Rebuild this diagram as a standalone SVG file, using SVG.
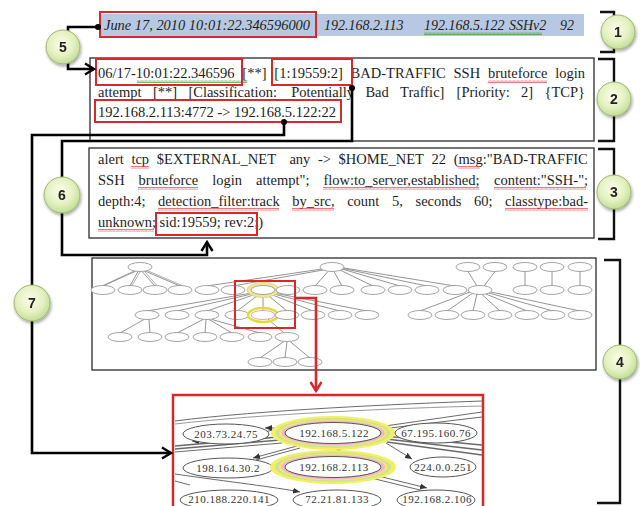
<svg xmlns="http://www.w3.org/2000/svg" width="640" height="506" viewBox="0 0 640 506">
<defs>
<style>
.tx{font-family:"Liberation Serif","Times New Roman",serif;font-size:14.5px;fill:#1e1e1e}
.ti{font-family:"Liberation Serif","Times New Roman",serif;font-size:14px;font-style:italic;fill:#1e1e1e}
.box{fill:#fff;stroke:#3a3a3a;stroke-width:1.4}
.red{fill:none;stroke:#d62a2a;stroke-width:2}
.con{fill:none;stroke:#000;stroke-width:2.6;stroke-linejoin:miter}
.num{font-family:"Liberation Sans",Arial,sans-serif;font-size:14px;font-weight:bold;fill:#222;text-anchor:middle}
.circ{fill:url(#gc);stroke:#9cb86f;stroke-width:1}
.brk{fill:none;stroke:#111;stroke-width:2.4}
.sn{fill:#fff;stroke:#8c8c8c;stroke-width:0.8}
.se{stroke:#7a7a7a;stroke-width:0.8;fill:none}
.ge{stroke:#6a6a6a;stroke-width:1;fill:none}
.gn{fill:#fff;stroke:#555;stroke-width:1}
.gt{font-family:"Liberation Serif","Times New Roman",serif;font-size:11px;fill:#333;text-anchor:middle;letter-spacing:0.5px}
</style>
<radialGradient id="gc" cx="45%" cy="40%" r="60%">
<stop offset="0" stop-color="#fbfde8"/>
<stop offset="0.6" stop-color="#e5f1c2"/>
<stop offset="1" stop-color="#c3de96"/>
</radialGradient>
<filter id="sh" x="-30%" y="-30%" width="160%" height="160%">
<feDropShadow dx="1" dy="2" stdDeviation="1.5" flood-color="#000" flood-opacity="0.35"/>
</filter>
<pattern id="sqR" width="4" height="3" patternUnits="userSpaceOnUse">
<path d="M0,2.5 L1,0.5 L2,2.5 L3,0.5 L4,2.5" fill="none" stroke="#e04040" stroke-width="0.7"/>
</pattern>
<pattern id="sqG" width="4" height="3" patternUnits="userSpaceOnUse">
<path d="M0,2.5 L1,0.5 L2,2.5 L3,0.5 L4,2.5" fill="none" stroke="#3a9a3a" stroke-width="0.7"/>
</pattern>
<marker id="aBlk" markerUnits="userSpaceOnUse" markerWidth="14" markerHeight="14" refX="11" refY="7" orient="auto">
<path d="M2,1.5 L11,7 L2,12.5" fill="none" stroke="#000" stroke-width="2.4"/>
</marker>
<marker id="aRed" markerUnits="userSpaceOnUse" markerWidth="14" markerHeight="14" refX="11" refY="7" orient="auto">
<path d="M2,1.5 L11,7 L2,12.5" fill="none" stroke="#d62a2a" stroke-width="2.4"/>
</marker>
<marker id="aG" markerUnits="userSpaceOnUse" markerWidth="8" markerHeight="8" refX="7" refY="4" orient="auto">
<path d="M0,1 L7,4 L0,7 Z" fill="#333"/>
</marker>
</defs>

<rect width="640" height="506" fill="#fff"/>

<!-- Node 1: packet summary line -->
<g id="node-packet">
<rect x="100" y="14" width="484" height="22" fill="#b7c9e2"/>
<text class="ti" x="104" y="30" textLength="206" lengthAdjust="spacingAndGlyphs">June 17, 2010 10:01:22.346596000</text>
<text class="ti" x="324" y="30">192.168.2.113</text>
<text class="ti" x="424" y="30">192.168.5.122</text>
<text class="ti" x="509" y="30">SSHv2</text>
<text class="ti" x="560" y="30">92</text>
<rect x="424" y="32" width="118" height="3" fill="url(#sqG)"/>
<rect class="red" x="100" y="12" width="216" height="25"/>
</g>

<!-- Node 2: alert log -->
<g id="node-alert">
<rect class="box" x="90" y="58" width="504" height="83"/>
<text class="tx" y="78"><tspan x="98">06/17-10:01:22.346596</tspan><tspan x="242.3">[**]</tspan><tspan x="274.3">[1:19559:2]</tspan><tspan x="350.6">BAD-TRAFFIC</tspan><tspan x="453.5">SSH</tspan><tspan x="487.9">bruteforce</tspan><tspan x="555.3">login</tspan></text>
<text class="tx" y="97"><tspan x="98">attempt</tspan><tspan x="152.9">[**]</tspan><tspan x="188.4">[Classification:</tspan><tspan x="291.2">Potentially</tspan><tspan x="365.4">Bad</tspan><tspan x="400.1">Traffic]</tspan><tspan x="456.6">[Priority:</tspan><tspan x="521.1">2]</tspan><tspan x="544.5">{TCP}</tspan></text>
<text class="tx" x="98" y="117">192.168.2.113:4772 -&gt; 192.168.5.122:22</text>
<rect x="137" y="80" width="110" height="3" fill="url(#sqG)"/>
<rect x="488" y="80" width="59" height="3" fill="url(#sqR)"/>
<rect class="red" x="96" y="59" width="146" height="26"/>
<rect class="red" x="272" y="59" width="80" height="26"/>
<rect class="red" x="95" y="100" width="246" height="22"/>
</g>

<!-- Node 3: snort rule -->
<g id="node-rule">
<rect class="box" x="89" y="148" width="505" height="90"/>
<text class="tx" y="164"><tspan x="98">alert</tspan><tspan x="131.4">tcp</tspan><tspan x="156.8">$EXTERNAL_NET</tspan><tspan x="289.4">any</tspan><tspan x="318">-&gt;</tspan><tspan x="338.6">$HOME_NET</tspan><tspan x="431.6">22</tspan><tspan x="453.7">(msg:"BAD-TRAFFIC</tspan></text>
<text class="tx" y="185"><tspan x="98">SSH</tspan><tspan x="138.6">bruteforce</tspan><tspan x="212.2">login</tspan><tspan x="256">attempt";</tspan><tspan x="323.4">flow:to_server,established;</tspan><tspan x="494.1">content:"SSH-";</tspan></text>
<text class="tx" y="206"><tspan x="98">depth:4;</tspan><tspan x="158.1">detection_filter:track</tspan><tspan x="292.3">by_src,</tspan><tspan x="347.2">count</tspan><tspan x="392">5,</tspan><tspan x="415.5">seconds</tspan><tspan x="474">60;</tspan><tspan x="505.1">classtype:bad-</tspan></text>
<text class="tx" y="227"><tspan x="98">unknown;</tspan><tspan x="159.6">sid:19559; rev:2;)</tspan></text>
<rect x="131" y="166" width="18" height="3" fill="url(#sqR)"/>
<rect x="458" y="166" width="22" height="3" fill="url(#sqR)"/>
<rect x="138" y="187" width="60" height="3" fill="url(#sqR)"/>
<rect x="323" y="187" width="156" height="3" fill="url(#sqR)"/>
<rect x="494" y="187" width="92" height="3" fill="url(#sqR)"/>
<rect x="158" y="208" width="121" height="3" fill="url(#sqR)"/>
<rect x="292" y="208" width="42" height="3" fill="url(#sqR)"/>
<rect x="505" y="208" width="83" height="3" fill="url(#sqR)"/>
<rect x="98" y="229" width="56" height="3" fill="url(#sqR)"/>
<rect class="red" x="156" y="213" width="101" height="22"/>
</g>

<!-- Node 4: overview graph -->
<g id="node-graph-overview">
<rect class="box" x="92" y="258" width="504" height="112" stroke="#222" stroke-width="1.5"/>
<g class="se">
<path d="M136,271 L103,286 M138,271.5 L130,286 M142,271.5 L155,286 M145,271 L180,286"/>
<path d="M134,271 L103,285.5 M140,272 L132,285.5 M144,271 L157,285.5 M147,270.5 L182,285.5" stroke-width="0.6"/>
<path d="M322,269 L207,286 M323,270 L233,286 M328,271.5 L315,286 M334,271.5 L342,286 M340,270 L373,286 M342,269 L400,286 M343,268.5 L427,286 M344,268 L455,286"/>
<path d="M252,293 L147,311 M254,293.5 L177,311 M256,294 L207,311 M259,294.5 L237,311 M263,294.5 L263,310.5 M267,294.5 L287,311 M270,294 L313,311 M272,293.5 L340,311 M274,293 L367,311"/>
<path d="M203,319.5 L177,333 M206,319.5 L205,333 M209,319.5 L232,333 M212,319.5 L260,333"/>
<path d="M144,319.5 L120,333 M149,319.5 L150,333 M268,319 L284,333"/>
<path d="M284,341.5 L260,358 M287,341.5 L285,358 M290,341.5 L310,358"/>
<path d="M468,271.5 L477,286 M495,271.5 L484,286 M525,271.5 L525,285.5 M552,271.5 L552,285.5 M580,271.5 L580,285.5"/>
<path d="M470,292 L420,311 M473,293 L447,311 M477,294 L473,311 M482,294.5 L500,311 M486,294 L527,311 M489,293 L553,311 M491,292 L580,311"/>
</g>
<g class="sn">
<ellipse cx="140" cy="267" rx="12" ry="4.5"/><ellipse cx="332" cy="267" rx="12" ry="4.5"/><ellipse cx="468" cy="267" rx="12" ry="4.5"/><ellipse cx="495" cy="267" rx="12" ry="4.5"/><ellipse cx="525" cy="267" rx="12" ry="4.5"/><ellipse cx="552" cy="267" rx="12" ry="4.5"/><ellipse cx="580" cy="267" rx="12" ry="4.5"/>
<ellipse cx="103" cy="290" rx="12" ry="4.5"/><ellipse cx="130" cy="290" rx="12" ry="4.5"/><ellipse cx="155" cy="290" rx="12" ry="4.5"/><ellipse cx="180" cy="290" rx="12" ry="4.5"/><ellipse cx="207" cy="290" rx="12" ry="4.5"/><ellipse cx="233" cy="290" rx="12" ry="4.5"/>
<ellipse cx="263" cy="290" rx="16" ry="7.5" fill="#efe7a0" stroke="#e0d060"/>
<ellipse cx="263" cy="290" rx="12" ry="4.5"/>
<ellipse cx="288" cy="290" rx="12" ry="4.5"/><ellipse cx="315" cy="290" rx="12" ry="4.5"/><ellipse cx="342" cy="290" rx="12" ry="4.5"/><ellipse cx="373" cy="290" rx="12" ry="4.5"/><ellipse cx="400" cy="290" rx="12" ry="4.5"/><ellipse cx="427" cy="290" rx="12" ry="4.5"/><ellipse cx="455" cy="290" rx="12" ry="4.5"/><ellipse cx="480" cy="290" rx="12" ry="4.5"/><ellipse cx="525" cy="290" rx="12" ry="4.5"/><ellipse cx="552" cy="290" rx="12" ry="4.5"/><ellipse cx="580" cy="290" rx="12" ry="4.5"/>
<ellipse cx="147" cy="315" rx="12" ry="4.5"/><ellipse cx="177" cy="315" rx="12" ry="4.5"/><ellipse cx="207" cy="315" rx="12" ry="4.5"/><ellipse cx="237" cy="315" rx="12" ry="4.5"/>
<ellipse cx="263" cy="315" rx="15" ry="7" fill="none" stroke="#e4dc30" stroke-width="2.5"/>
<ellipse cx="263" cy="315" rx="12" ry="4.5" stroke="#d88ab0"/>
<ellipse cx="287" cy="315" rx="12" ry="4.5"/><ellipse cx="313" cy="315" rx="12" ry="4.5"/><ellipse cx="340" cy="315" rx="12" ry="4.5"/><ellipse cx="367" cy="315" rx="12" ry="4.5"/><ellipse cx="420" cy="315" rx="12" ry="4.5"/><ellipse cx="447" cy="315" rx="12" ry="4.5"/><ellipse cx="473" cy="315" rx="12" ry="4.5"/><ellipse cx="500" cy="315" rx="12" ry="4.5"/><ellipse cx="527" cy="315" rx="12" ry="4.5"/><ellipse cx="553" cy="315" rx="12" ry="4.5"/><ellipse cx="580" cy="315" rx="12" ry="4.5"/>
<ellipse cx="120" cy="337" rx="12" ry="4.5"/><ellipse cx="150" cy="337" rx="12" ry="4.5"/><ellipse cx="177" cy="337" rx="12" ry="4.5"/><ellipse cx="205" cy="337" rx="12" ry="4.5"/><ellipse cx="232" cy="337" rx="12" ry="4.5"/><ellipse cx="260" cy="337" rx="12" ry="4.5"/><ellipse cx="287" cy="337" rx="12" ry="4.5"/>
<ellipse cx="260" cy="362" rx="12" ry="4.5"/><ellipse cx="285" cy="362" rx="12" ry="4.5"/><ellipse cx="310" cy="362" rx="12" ry="4.5"/>
</g>
<rect x="235" y="281" width="60" height="47" fill="none" stroke="#d62a2a" stroke-width="2"/>
</g>

<!-- Node 5: zoomed graph -->
<g id="node-graph-zoom">
<rect x="173" y="395" width="310" height="130" fill="#fff" stroke="#d62a2a" stroke-width="2.5"/>
<g class="ge">
<path d="M175,421 C260,410 400,404 482,401"/>
<path d="M175,424 C260,414 400,408 482,406" stroke="#999"/>
<path d="M290,426 C250,436 215,442 192,441" marker-end="url(#aG)"/>
<path d="M276,428 L265,428" marker-end="url(#aG)"/>
<path d="M175,446 L278,437 M175,449 L280,440" stroke-width="1.6"/>
<path d="M175,452 L282,443"/>
<path d="M297,446 L253,458" marker-end="url(#aG)"/>
<path d="M300,448 L256,460"/>
<path d="M175,474 C230,482 275,487 300,492" marker-end="url(#aG)"/>
<path d="M175,481 L190,485"/>
<path d="M384,436 L482,445 M386,439 L482,450 M387,442 L482,455" stroke-width="1.4"/>
<path d="M386,443 L412,459" marker-end="url(#aG)"/>
<path d="M385,426 L482,412 M390,428 L482,417"/>
<path d="M363,476 L424,491 M366,473 L427,488" marker-end="url(#aG)"/>
<path d="M328,456 L328,445 M338,445 L338,456" stroke-dasharray="2,2" marker-end="url(#aG)"/>
</g>
<ellipse class="gn" cx="226" cy="434" rx="43" ry="10"/>
<text class="gt" x="226" y="438">203.73.24.75</text>
<ellipse cx="333" cy="433" rx="62" ry="17" fill="#f3ee66"/>
<ellipse cx="333" cy="433" rx="57" ry="15" fill="#c9e592"/>
<ellipse cx="333" cy="433" rx="54" ry="13.5" fill="#f0e870"/>
<ellipse cx="333" cy="433" rx="51.5" ry="12.5" fill="#f2b6cc"/>
<ellipse class="gn" cx="333" cy="433" rx="48" ry="10.5"/>
<text class="gt" x="334" y="437">192.168.5.122</text>
<ellipse class="gn" cx="436" cy="433" rx="41" ry="10"/>
<text class="gt" x="436" y="437">67.195.160.76</text>
<ellipse class="gn" cx="228" cy="468" rx="45" ry="10"/>
<text class="gt" x="228" y="472">198.164.30.2</text>
<ellipse cx="333" cy="467" rx="63" ry="17" fill="#f3ee66"/>
<ellipse cx="333" cy="467" rx="58" ry="15" fill="#c9e592"/>
<ellipse cx="333" cy="467" rx="54.5" ry="13.5" fill="#f0e870"/>
<ellipse cx="333" cy="467" rx="52" ry="12.5" fill="#f2b6cc"/>
<ellipse class="gn" cx="333" cy="467" rx="48" ry="10.5"/>
<text class="gt" x="334" y="471">192.168.2.113</text>
<ellipse class="gn" cx="443" cy="467" rx="33" ry="10"/>
<text class="gt" x="443" y="471">224.0.0.251</text>
<ellipse class="gn" cx="229" cy="500" rx="49" ry="10"/>
<text class="gt" x="229" y="503">210.188.220.141</text>
<ellipse class="gn" cx="337" cy="500" rx="44" ry="10"/>
<text class="gt" x="337" y="503">72.21.81.133</text>
<ellipse class="gn" cx="436" cy="500" rx="39" ry="10"/>
<text class="gt" x="437" y="503">192.168.2.106</text>
</g>

<!-- Connectors -->
<g id="connectors">
<path class="con" d="M68,33 V27 H98"/>
<circle cx="98" cy="27" r="3" fill="#000"/>
<path class="con" d="M68,62 V69 H94" marker-end="url(#aBlk)"/>
<path class="con" d="M352,88 V141 H62 V255 H207 V242" marker-end="url(#aBlk)"/>
<circle cx="352" cy="88" r="3" fill="#000"/>
<path class="con" d="M284,122 V135 H32 V453 H171" marker-end="url(#aBlk)"/>
<circle cx="284" cy="122" r="3" fill="#000"/>
<path d="M295,298 H316 V391" fill="none" stroke="#d62a2a" stroke-width="2.6" marker-end="url(#aRed)"/>
<path class="brk" d="M600,12 H614 V52 H600"/>
<path class="brk" d="M598,59 H614 V141 H598"/>
<path class="brk" d="M598,149 H614 V239 H598"/>
<path class="brk" d="M604,260 H620 V503 H597"/>
</g>

<!-- Number markers -->
<g id="marker-1" filter="url(#sh)"><circle class="circ" cx="618" cy="32" r="17"/><text class="num" x="618" y="37">1</text></g>
<g id="marker-2" filter="url(#sh)"><circle class="circ" cx="614" cy="99" r="17"/><text class="num" x="614" y="104">2</text></g>
<g id="marker-3" filter="url(#sh)"><circle class="circ" cx="614" cy="192" r="17"/><text class="num" x="614" y="197">3</text></g>
<g id="marker-4" filter="url(#sh)"><circle class="circ" cx="620" cy="362" r="17"/><text class="num" x="620" y="367">4</text></g>
<g id="marker-5" filter="url(#sh)"><circle class="circ" cx="63" cy="47" r="17"/><text class="num" x="63" y="52">5</text></g>
<g id="marker-6" filter="url(#sh)"><circle class="circ" cx="62" cy="195" r="18"/><text class="num" x="62" y="200">6</text></g>
<g id="marker-7" filter="url(#sh)"><circle class="circ" cx="32" cy="303" r="18"/><text class="num" x="32" y="308">7</text></g>
</svg>
